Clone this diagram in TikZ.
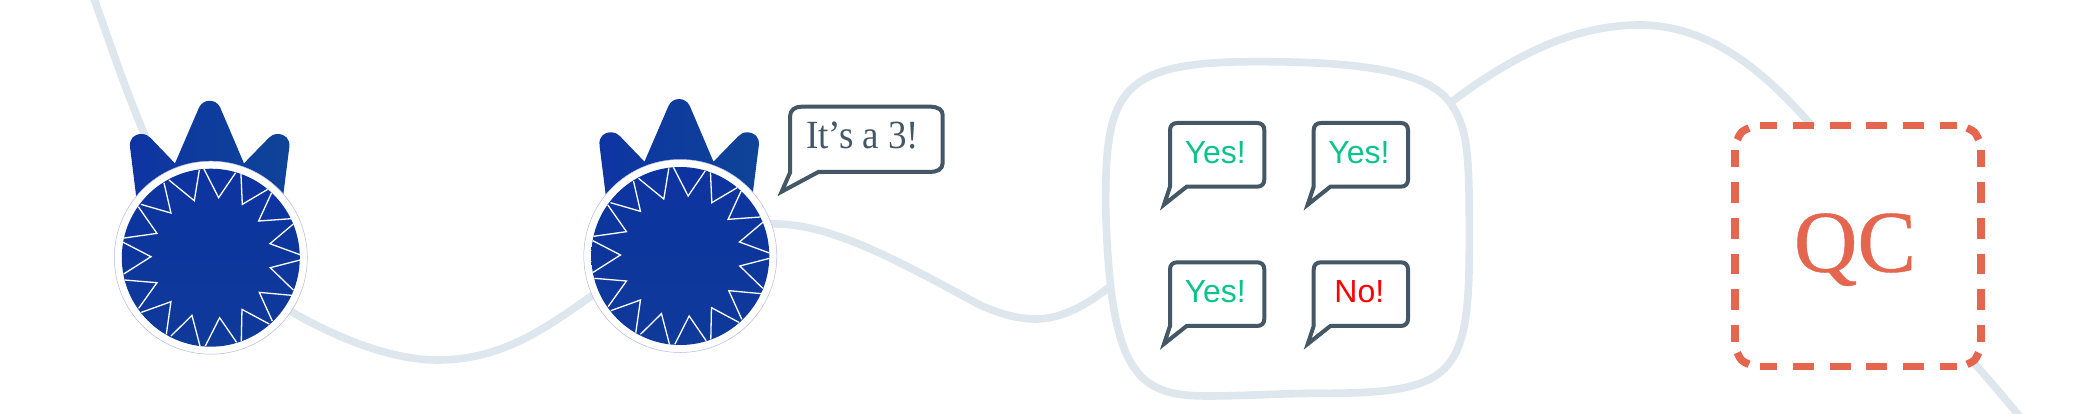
\documentclass[tikz,border=0pt]{standalone}
\usepackage{fontspec}
\usetikzlibrary{backgrounds}
\newfontfamily\plainsans{Liberation Sans}
\newfontfamily\plainserif[FakeBold=0.5]{Liberation Serif}
\newfontfamily\narrowserif[FakeStretch=0.925]{Liberation Serif}
\definecolor{wire}{HTML}{DEE6EE}
\definecolor{slate}{HTML}{435766}
\definecolor{qcred}{HTML}{E5664F}
\definecolor{yesgreen}{HTML}{0CC48A}
\definecolor{lav}{HTML}{B4B8EA}
\definecolor{bluemid}{HTML}{0B2BA0}
\definecolor{bluetop}{HTML}{0D33A0}
\definecolor{bluebot}{HTML}{0E3A99}
\definecolor{crownl}{HTML}{0E34A2}
\definecolor{crownr}{HTML}{0E4498}
\tikzset{
  wireline/.style={draw=wire,line width=7.6pt},
  spark/.style={draw=white,line width=1.3pt,miter limit=10},
  bubbleline/.style={draw=slate,line width=4pt,fill=white,miter limit=10},
  yes/.style={font=\plainsans\fontsize{32}{40}\selectfont,text=yesgreen,inner sep=0pt},
  no/.style={font=\plainsans\fontsize{32}{40}\selectfont,text=red,inner sep=0pt},
  qcline/.style={draw=qcred,line width=7.6pt},
  gear/.pic={
    \begin{scope}[shift={(-392.5,-773)}]
      \shade[left color=crownl,middle color=bluemid,right color=crownr]
        (170,600) -- (150.3,442) .. controls (147,415) and (163,402) .. (185,402)
        .. controls (197,402) and (205,407) .. (212,414) -- (285,490) -- (357,323)
        .. controls (369.3,295.2) and (408.7,295.2) .. (421,323) -- (492,490) -- (566,414)
        .. controls (573,407) and (581,402) .. (592,402)
        .. controls (615,402) and (631,415) .. (628,442) -- (608,600) -- cycle;
      \node[circle,draw=lav,line width=.5pt,fill=white,minimum size=193pt,inner sep=0pt] (-c) at (392.5,773) {};
      \shade[top color=bluetop,middle color=bluemid,bottom color=bluebot] (392.5,773) circle[radius=267];
      \draw[spark] (372,507) -- (416,593) -- (467,518);
      \draw[spark] (483,522) -- (487,613) -- (563,568);
      \draw[spark] (575,578) -- (536,663) -- (633,656);
      \draw[spark] (640,672) -- (570,731) -- (660,764);
      \draw[spark] (660,780) -- (571,803) -- (640,870);
      \draw[spark] (636,886) -- (538,877) -- (577,963);
      \draw[spark] (568,972) -- (486,928) -- (484,1023);
      \draw[spark] (470,1027) -- (419,953) -- (376,1038);
      \draw[spark] (360,1038) -- (336,946) -- (273,1008);
      \draw[spark] (259,1003) -- (273,905) -- (184,937);
      \draw[spark] (176,925) -- (231,848) -- (135,840);
      \draw[spark] (131,822) -- (213,770) -- (130,727);
      \draw[spark] (132,714) -- (231,700) -- (175,620);
      \draw[spark] (183,613) -- (273,639) -- (252,548);
      \draw[spark] (267,540) -- (343,602) -- (358,510);
    \end{scope}
  },
  smallbubble/.pic={
    \path[bubbleline] (0,22) .. controls (0,8) and (8,0) .. (22,0) -- (261,0)
      .. controls (275,0) and (283,8) .. (283,22) -- (283,169)
      .. controls (283,183) and (275,191) .. (261,191) -- (50,191)
      -- (-18,245) -- (0,191) -- cycle;
  }
}
\begin{document}
\begin{tikzpicture}[x=1pt,y=-1pt]
\useasboundingbox (0,0) rectangle (2082,414);

% gears
\pic[scale=1/3] (g1) at (210.8,257.7) {gear};
\pic[scale=1/3] (g2) at (680.3,256) {gear};

% speech bubble of the second gear
\begin{scope}[shift={(560,80)},scale=1/3]
  \path[bubbleline] (690,110) .. controls (690,90) and (705,80) .. (725,80) -- (1110,80)
    .. controls (1135,80) and (1148,90) .. (1148,105) -- (1148,250)
    .. controls (1148,268) and (1130,276) .. (1110,276) -- (775,276)
    -- (665,335) -- (690,278) -- cycle;
\end{scope}
\node[font=\narrowserif\fontsize{40}{48}\selectfont,text=slate,inner sep=0pt] (say) at (862.7,135) {It’s a 3!};

% answer blob
\begin{scope}[shift={(1090,40)},scale=1/3]
  \path[draw=wire,line width=7.6pt,fill=white] (47,500) .. controls (45,150) and (90,65) .. (500,65)
    .. controls (800,65) and (1020,90) .. (1085,195)
    .. controls (1135,270) and (1138,350) .. (1138,600)
    .. controls (1138,1000) and (1100,1060) .. (700,1060)
    .. controls (560,1060) and (480,1068) .. (350,1068)
    .. controls (140,1068) and (60,1000) .. (47,500) -- cycle;
\end{scope}
\node[inner sep=0pt,minimum size=1pt] (blob) at (1287,228) {};

% answers
\pic[scale=1/3] at (1170,123) {smallbubble};
\pic[scale=1/3] at (1313.7,123) {smallbubble};
\pic[scale=1/3] at (1170,262.3) {smallbubble};
\pic[scale=1/3] at (1313.7,262.3) {smallbubble};
\node[yes] (a1) at (1215.3,152.7) {Yes!};
\node[yes] (a2) at (1359,152.7) {Yes!};
\node[yes] (a3) at (1215.3,292) {Yes!};
\node[no]  (a4) at (1359.3,292) {No!};

% QC box
\node[draw=none,fill=white,rounded corners=24pt,minimum width=246pt,minimum height=241pt,inner sep=0pt] (qc) at (1858,246.2) {};
\begin{scope}[shift={(1700,90)},scale=1/3]
  \draw[qcline,dash pattern=on 20.8pt off 15.8pt,dash phase=3.4pt] (180,107) -- (770,107);
  \draw[qcline,dash pattern=on 20.8pt off 15.8pt,dash phase=3.4pt] (180,830) -- (770,830);
  \draw[qcline,dash pattern=on 20.7pt off 15pt,dash phase=3.4pt] (105,180) -- (105,757);
  \draw[qcline,dash pattern=on 20.7pt off 15pt,dash phase=3.4pt] (843,180) -- (843,757);
  \draw[qcline] (112,149) .. controls (123,125) .. (147,114);
  \draw[qcline] (836,149) .. controls (825,125) .. (801,114);
  \draw[qcline] (112,788) .. controls (123,812) .. (147,823);
  \draw[qcline] (836,788) .. controls (825,812) .. (801,823);
\end{scope}
\node[font=\plainserif\fontsize{88}{100}\selectfont,text=qcred,inner sep=0pt,anchor=base] (qclabel) at (1855,271.7) {QC};

% free ends of the long line
\coordinate (lineStart) at (93,-4);
\coordinate (lineEnd) at (2025,423);

\begin{scope}[on background layer]
  \draw[wireline] (lineStart) .. controls (120,70) and (150,170) .. (g1-c.center);
  \draw[wireline] (g1-c.center) .. controls (265,300) and (360,360) .. (438,360)
    .. controls (505,360) and (550,325) .. (600,290) -- (g2-c.center);
  \draw[wireline] (g2-c.center) -- (770,224) .. controls (830,222) and (900,262) .. (980,305)
    .. controls (1000,314) and (1018,319) .. (1036,319)
    .. controls (1062,319) and (1088,304) .. (1108,288) -- (blob.center);
  \draw[wireline] (blob.center) -- (1450,103) .. controls (1520,50) and (1580,25) .. (1640,25)
    .. controls (1710,25) and (1765,72) .. (1812,126) -- (qc.center);
  \draw[wireline] (qc.center) .. controls (1920,300) and (1975,362) .. (lineEnd);
\end{scope}
\end{tikzpicture}
\end{document}
